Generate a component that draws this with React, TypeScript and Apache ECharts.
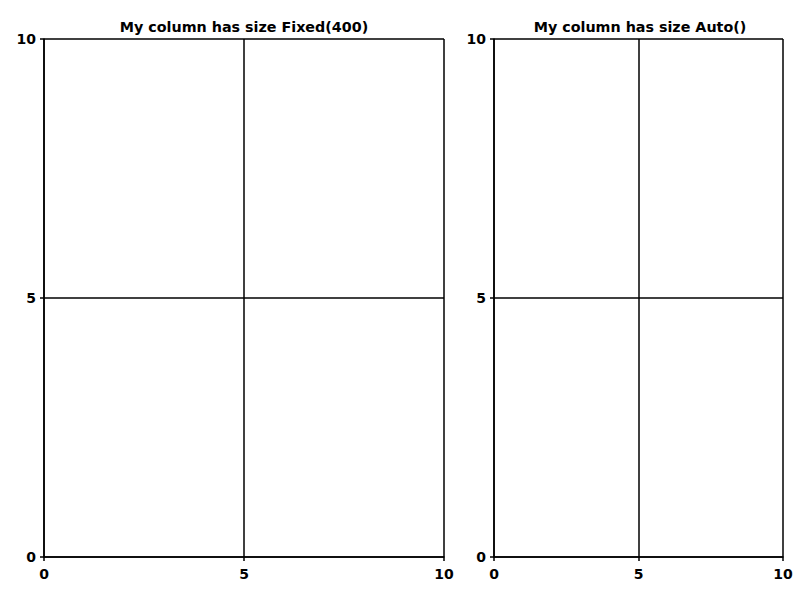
import React, { useEffect, useRef } from "react";
import * as echarts from "echarts";

const titles = ["My column has size Fixed(400)", "My column has size Auto()"];
const xRange = [0, 10];
const yRange = [0, 10];
const tickStep = 5;

export default function App() {
  const ref = useRef<HTMLDivElement>(null);
  useEffect(() => {
    if (!ref.current) return;
    const chart = echarts.init(ref.current, null, { renderer: "svg" });
    const font = "DejaVu Sans";
    const grids = [
      { left: 44, top: 39, width: 400, height: 518 },
      { left: 494, top: 39, right: 17, height: 518 },
    ];
    const line = { color: "#000", width: 1.5 };
    const mkX = (i: number) => ({
      type: "value",
      gridIndex: i,
      min: xRange[0],
      max: xRange[1],
      interval: tickStep,
      axisLine: { show: true, onZero: false, lineStyle: line },
      axisTick: { show: true, length: 4, lineStyle: line },
      axisLabel: { color: "#000", fontFamily: font, fontSize: 14, fontWeight: "bold", margin: 10 },
      splitLine: { show: true, lineStyle: line },
    });
    const mkY = (i: number) => ({
      type: "value",
      gridIndex: i,
      min: yRange[0],
      max: yRange[1],
      interval: tickStep,
      axisLine: { show: true, onZero: false, lineStyle: line },
      axisTick: { show: true, length: 4, lineStyle: line },
      axisLabel: { color: "#000", fontFamily: font, fontSize: 14, fontWeight: "bold", margin: 8 },
      splitLine: { show: true, lineStyle: line },
    });
    const ts = { fontFamily: font, fontSize: 14.3, fontWeight: "bold", color: "#000" };
    chart.setOption({
      animation: false,
      backgroundColor: "#fff",
      title: [
        { text: titles[0], left: 239, top: 15, textAlign: "center", textStyle: ts },
        { text: titles[1], left: 635, top: 15, textAlign: "center", textStyle: ts },
      ],
      grid: grids,
      xAxis: [mkX(0), mkX(1)],
      yAxis: [mkY(0), mkY(1)],
      series: [
        { type: "line", xAxisIndex: 0, yAxisIndex: 0, data: [] },
        { type: "line", xAxisIndex: 1, yAxisIndex: 1, data: [] },
      ],
    });
    return () => chart.dispose();
  }, []);
  return (
    <div
      ref={ref}
      style={{ position: "fixed", left: 0, top: 0, width: 800, height: 600 }}
    />
  );
}
